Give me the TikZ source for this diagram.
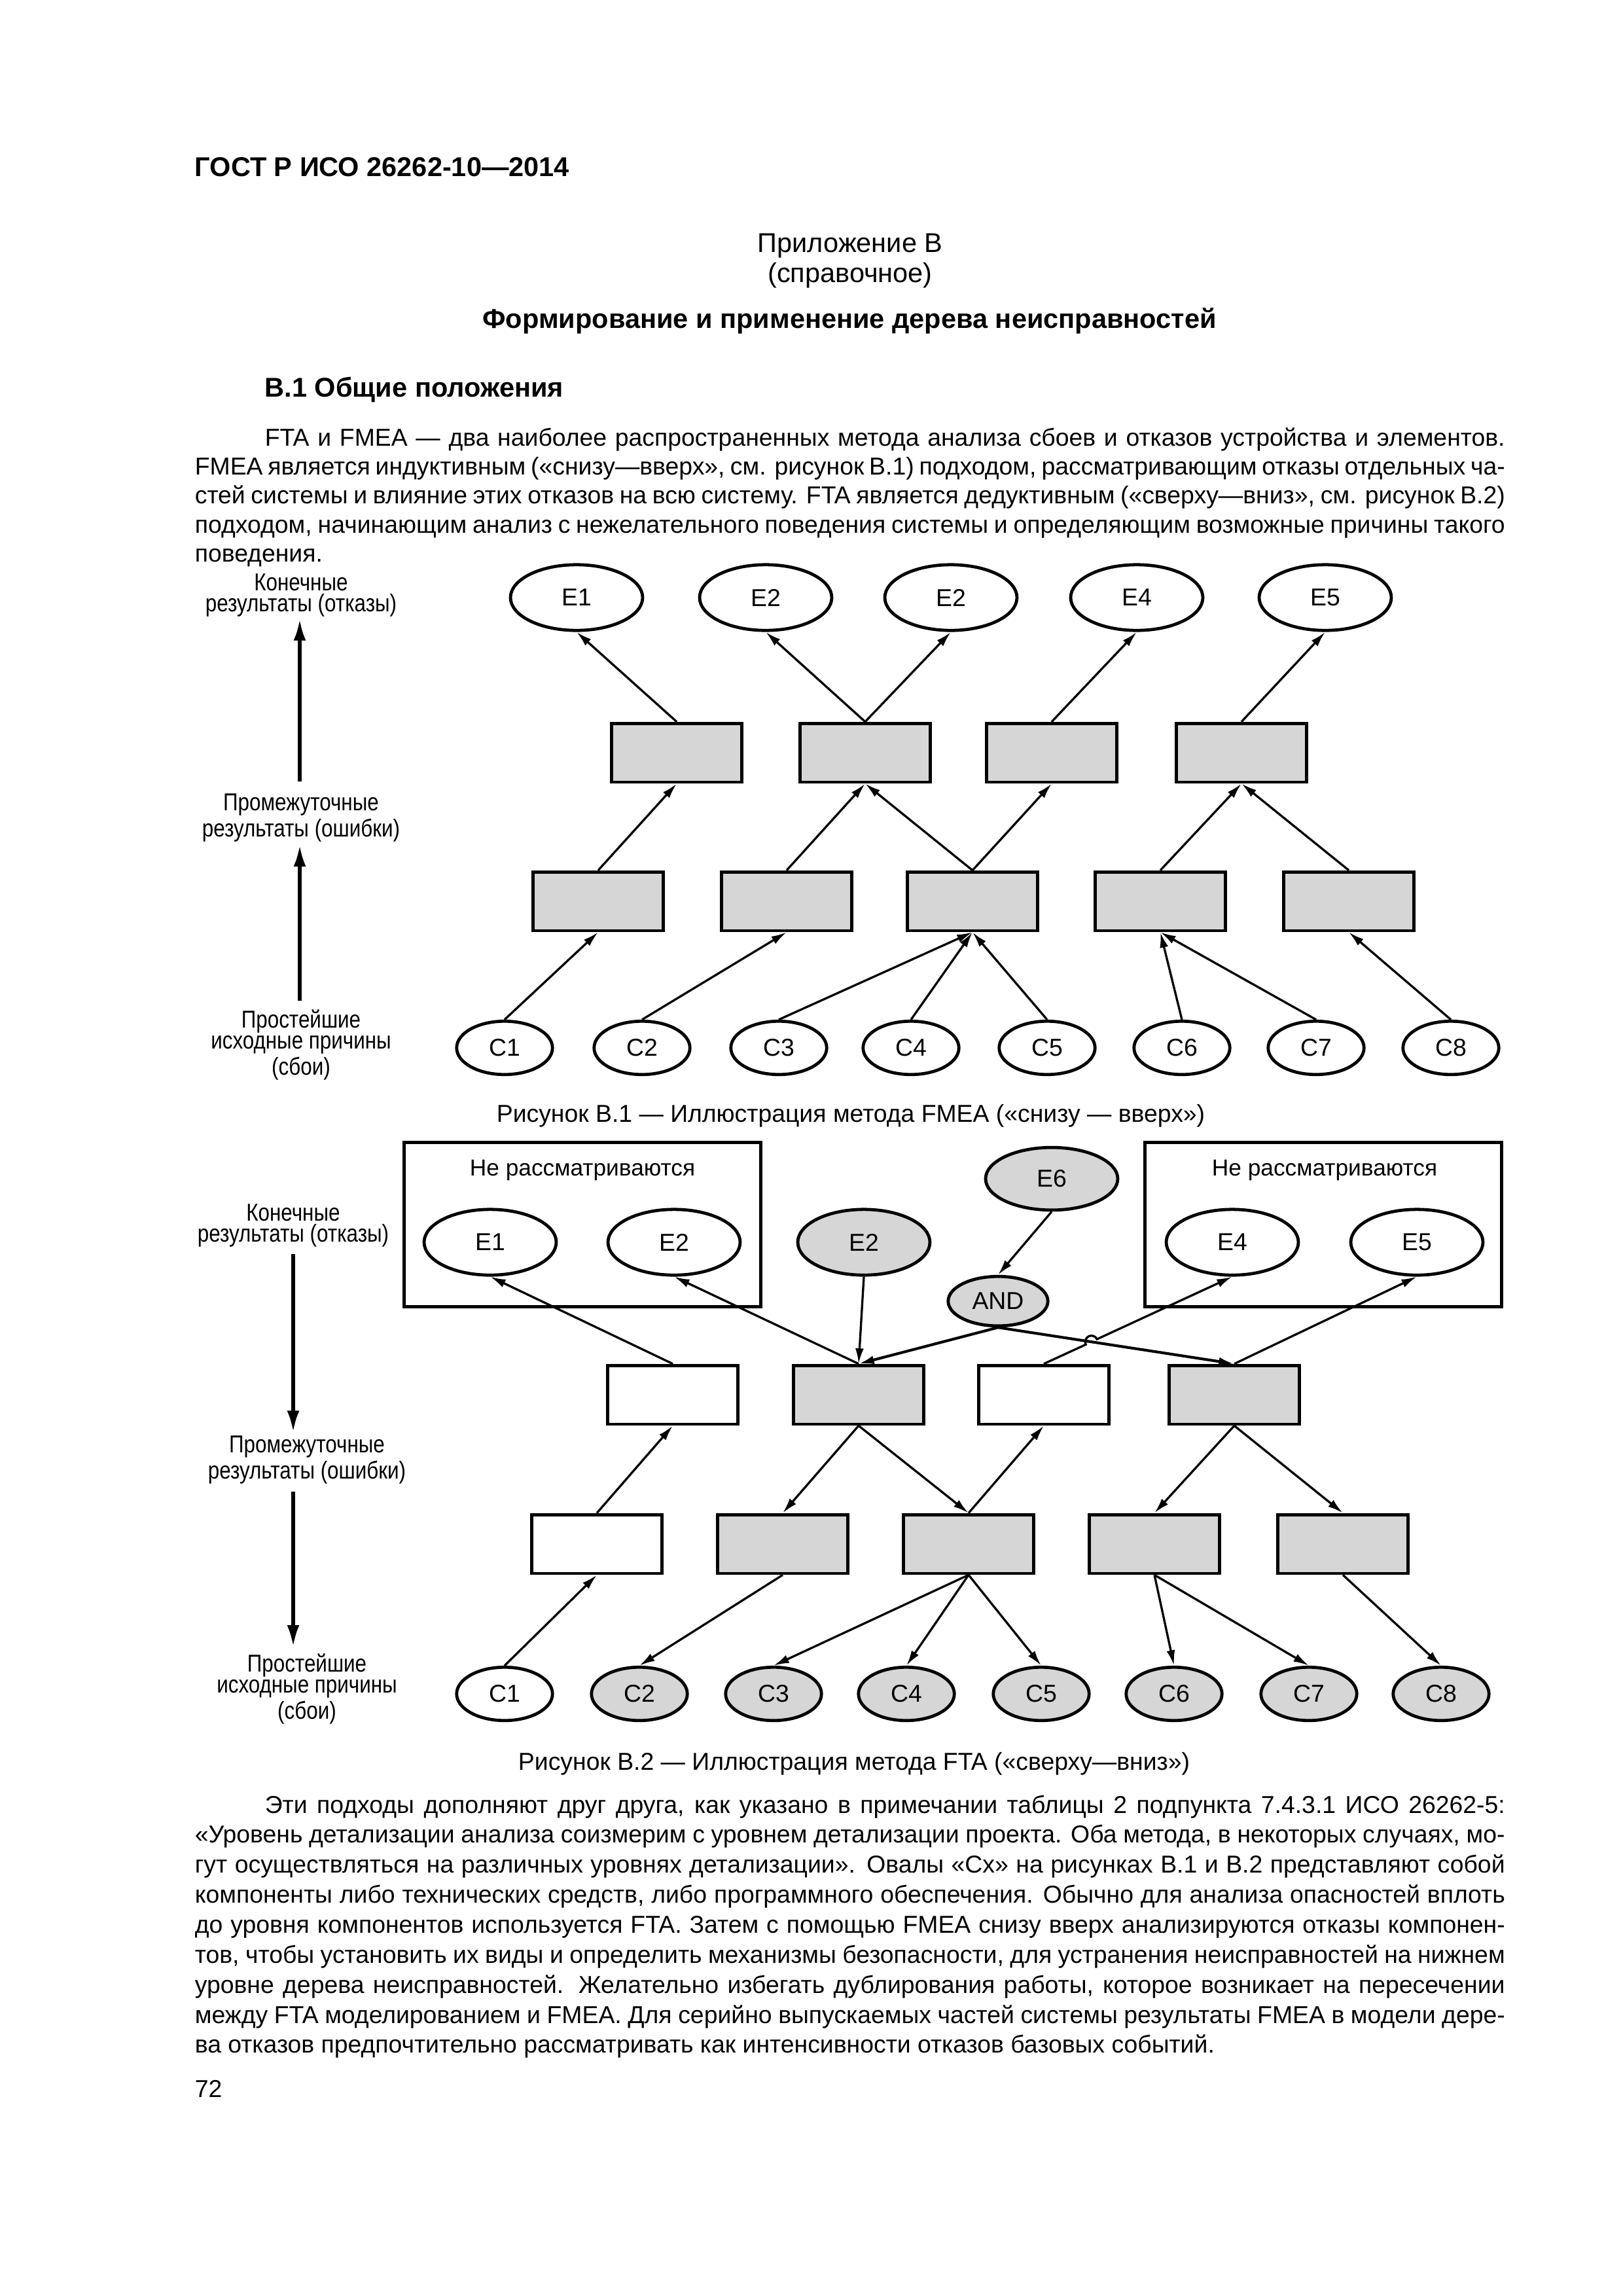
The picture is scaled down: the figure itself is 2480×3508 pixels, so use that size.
\documentclass[tikz,border=0pt]{standalone}
\usepackage{fontspec}
\setmainfont{Liberation Sans}
\newfontfamily\lvlfont[FakeStretch=0.84]{Liberation Sans}
\usepackage{tikz}
\usetikzlibrary{shapes.geometric, arrows.meta, positioning, calc}
\usepackage{xcolor}
\definecolor{GostGray}{HTML}{D6D6D6}
\definecolor{GostBlack}{HTML}{000000}
\tikzset{
    evt/.style={
        ellipse,
        draw=GostBlack,
        line width=1.15pt,
        fill=#1,
        minimum width=17.1mm,
        minimum height=8.5mm,
        inner sep=0pt,
        font=\fontsize{9}{10}\selectfont
    },
    evt/.default=white,
    cause/.style={
        evt=#1,
        minimum width=12.4mm,
        minimum height=6.9mm
    },
    cause/.default=white,
    errbox/.style={
        draw=GostBlack,
        line width=1.15pt,
        fill=#1,
        minimum width=16.9mm,
        minimum height=7.6mm,
        inner sep=0pt
    },
    errbox/.default=GostGray,
    skipbox/.style={
        draw=GostBlack,
        line width=1.15pt,
        minimum width=46.1mm,
        minimum height=21.3mm,
        inner sep=0pt
    },
    link/.style={
        -{Latex[length=2mm, width=1.1mm]},
        line width=0.8pt,
        GostBlack
    },
    andlink/.style={
        link,
        line width=1pt
    },
    axisarrow/.style={
        -{Latex[length=2.8mm, width=1.6mm]},
        line width=1.3pt,
        GostBlack
    },
    lvl/.style={
        align=center,
        inner sep=0pt,
        font=\lvlfont\fontsize{9}{7.7}\selectfont
    },
    para/.style={
        text width=169.5mm,
        align=justify,
        inner sep=0pt,
        font={\fontsize{9}{#1}\selectfont\tolerance=9999\hyphenpenalty=10000}
    },
    plain/.style={
        inner sep=0pt,
        font=\fontsize{9}{11}\selectfont
    },
    heading/.style={
        inner sep=0pt,
        font=\fontsize{10}{12}\selectfont\bfseries
    }
}

\begin{document}
\begin{tikzpicture}[x=0.0846774mm, y=-0.0846774mm]
        \useasboundingbox (0,0) rectangle (2480,3508);

        % Page header and annex title
        \node[heading, anchor=base west] (gost) at (297,269) {ГОСТ Р ИСО 26262-10—2014};
        \node[plain, anchor=base, font=\fontsize{10}{12}\selectfont] (annex) at (1299,385) {Приложение В};
        \node[plain, anchor=base, font=\fontsize{10}{12}\selectfont] (annextype) at (1299,431) {(справочное)};
        \node[heading, anchor=base] (annextitle) at (1298,501) {Формирование и применение дерева неисправностей};
        \node[heading, anchor=base west] (sec) at (404,606) {В.1 Общие положения};

        % Introduction
        \node[para=10.7, anchor=base west] (intro) at (297,681) {\hspace*{9.06mm}FTA и FMEA — два наиболее распространенных метода анализа сбоев и отказов устройства и элементов.\linebreak
            FMEA является индуктивным («снизу—вверх», см. рисунок В.1) подходом, рассматривающим отказы отдельных ча-\linebreak
            стей системы и влияние этих отказов на всю систему. FTA является дедуктивным («сверху—вниз», см. рисунок В.2)\linebreak
            подходом, начинающим анализ с нежелательного поведения системы и определяющим возможные причины такого\linebreak
            поведения.};

        % Figure B.1: levels
        \node[lvl, anchor=base] (flvl1) at (460,934) {Конечные\\результаты (отказы)};
        \node[lvl, anchor=base] (flvl2) at (460,1278) {Промежуточные\\результаты (ошибки)};
        \node[lvl, anchor=base] (flvl3) at (460,1642) {Простейшие\\исходные причины\\(сбои)};
        \coordinate (fax) at (458,0);
        \draw[axisarrow, shorten <=1.5mm, shorten >=0.25mm] (fax |- flvl2.north) -- (fax |- flvl1.south);
        \draw[axisarrow, shorten <=1.1mm, shorten >=0.35mm] (fax |- flvl3.north) -- (fax |- flvl2.south);

        % Figure B.1: end results
        \node[evt] (fe1) at (881,913) {E1};
        \node[evt] (fe2) at (1170,913) {E2};
        \node[evt] (fe3) at (1453,913) {E2};
        \node[evt] (fe4) at (1737,913) {E4};
        \node[evt] (fe5) at (2025,913) {E5};

        % Figure B.1: intermediate results
        \node[errbox] (ft1) at (1034,1150) {};
        \node[errbox] (ft2) at (1322,1150) {};
        \node[errbox] (ft3) at (1607,1150) {};
        \node[errbox] (ft4) at (1897,1150) {};
        \node[errbox] (fm1) at (914,1377) {};
        \node[errbox] (fm2) at (1202,1377) {};
        \node[errbox] (fm3) at (1486,1377) {};
        \node[errbox] (fm4) at (1773,1377) {};
        \node[errbox] (fm5) at (2061,1377) {};

        % Figure B.1: basic causes
        \node[cause] (fc1) at (771,1601) {C1};
        \node[cause] (fc2) at (981,1601) {C2};
        \node[cause] (fc3) at (1190,1601) {C3};
        \node[cause] (fc4) at (1392,1601) {C4};
        \node[cause] (fc5) at (1600,1601) {C5};
        \node[cause] (fc6) at (1806,1601) {C6};
        \node[cause] (fc7) at (2011,1601) {C7};
        \node[cause] (fc8) at (2217,1601) {C8};

        % Figure B.1: bottom-up links
        \draw[link] (fc1.north) -- (fm1.south);
        \draw[link] (fc2.north) -- (fm2.south);
        \draw[link] (fc3.north) -- (fm3.south);
        \draw[link] (fc4.north) -- (fm3.south);
        \draw[link] (fc5.north) -- (fm3.south);
        \draw[link] (fc6.north) -- (fm4.south);
        \draw[link] (fc7.north) -- (fm4.south);
        \draw[link] (fc8.north) -- (fm5.south);
        \draw[link] (fm1.north) -- (ft1.south);
        \draw[link] (fm2.north) -- (ft2.south);
        \draw[link] (fm3.north) -- (ft2.south);
        \draw[link] (fm3.north) -- (ft3.south);
        \draw[link] (fm4.north) -- (ft4.south);
        \draw[link] (fm5.north) -- (ft4.south);
        \draw[link] (ft1.north) -- (fe1.south);
        \draw[link] (ft2.north) -- (fe2.south);
        \draw[link] (ft2.north) -- (fe3.south);
        \draw[link] (ft3.north) -- (fe4.south);
        \draw[link] (ft4.north) -- (fe5.south);

        \node[plain, anchor=base] (fcap) at (1300,1714) {Рисунок В.1 — Иллюстрация метода FMEA («снизу — вверх»)};

        % Figure B.2: levels
        \node[lvl, anchor=base] (tlvl1) at (448,1897) {Конечные\\результаты (отказы)};
        \node[lvl, anchor=base] (tlvl2) at (469,2259) {Промежуточные\\результаты (ошибки)};
        \node[lvl, anchor=base] (tlvl3) at (469,2626) {Простейшие\\исходные причины\\(сбои)};
        \coordinate (tax) at (448,0);
        \draw[axisarrow, shorten <=0.9mm, shorten >=0.4mm] (tax |- tlvl1.south) -- (tax |- tlvl2.north);
        \draw[axisarrow, shorten <=1mm, shorten >=0.85mm] (tax |- tlvl2.south) -- (tax |- tlvl3.north);

        % Figure B.2: not considered
        \node[skipbox] (skipl) at (890,1871) {};
        \node[skipbox] (skipr) at (2022,1871) {};
        \node[plain, anchor=base, font=\fontsize{8.5}{10}\selectfont] (skipltext) at (890,1796) {Не рассматриваются};
        \node[plain, anchor=base, font=\fontsize{8.5}{10}\selectfont] (skiprtext) at (2024,1796) {Не рассматриваются};

        % Figure B.2: end results
        \node[evt] (te1) at (749,1898) {E1};
        \node[evt] (te2) at (1030,1898) {E2};
        \node[evt=GostGray] (te3) at (1320,1898) {E2};
        \node[evt] (te4) at (1883,1898) {E4};
        \node[evt] (te5) at (2165,1898) {E5};
        \node[evt=GostGray, minimum height=8.1mm] (te6) at (1607,1801) {E6};
        \node[evt=GostGray, minimum width=12.9mm, minimum height=6.4mm] (andgate) at (1525,1988) {AND};

        % Figure B.2: intermediate results
        \node[errbox=white] (tt1) at (1028,2131) {};
        \node[errbox] (tt2) at (1312,2131) {};
        \node[errbox=white] (tt3) at (1595,2131) {};
        \node[errbox] (tt4) at (1886,2131) {};
        \node[errbox=white] (tm1) at (912,2359) {};
        \node[errbox] (tm2) at (1196,2359) {};
        \node[errbox] (tm3) at (1480,2359) {};
        \node[errbox] (tm4) at (1764,2359) {};
        \node[errbox] (tm5) at (2052,2359) {};

        % Figure B.2: basic causes
        \node[cause] (tc1) at (771,2588) {C1};
        \node[cause=GostGray] (tc2) at (977,2588) {C2};
        \node[cause=GostGray] (tc3) at (1182,2588) {C3};
        \node[cause=GostGray] (tc4) at (1385,2588) {C4};
        \node[cause=GostGray] (tc5) at (1591,2588) {C5};
        \node[cause=GostGray] (tc6) at (1794,2588) {C6};
        \node[cause=GostGray] (tc7) at (2000,2588) {C7};
        \node[cause=GostGray] (tc8) at (2202,2588) {C8};

        % Figure B.2: links
        \draw[link] (te6.south) -- (andgate.north);
        \draw[link] (te3.south) -- (tt2.north);
        \draw[andlink] (andgate.south) -- (tt2.north);
        \draw[andlink] (andgate.south) -- (tt4.north);
        \draw[link] (tt1.north) -- (te1.south);
        \draw[link] (tt2.north) -- (te2.south);
        \coordinate (hop) at (intersection of tt3.north--te4.south and andgate.south--tt4.north);
        \draw[link] (tt3.north) -- ($(hop)!0.8mm!(tt3.north)$) arc[start angle=205.6, end angle=25.6, radius=0.8mm] -- (te4.south);
        \draw[link] (tt4.north) -- (te5.south);
        \draw[link] (tm1.north) -- (tt1.south);
        \draw[link] (tt2.south) -- (tm2.north);
        \draw[link] (tt2.south) -- (tm3.north);
        \draw[link] (tm3.north) -- (tt3.south);
        \draw[link] (tt4.south) -- (tm4.north);
        \draw[link] (tt4.south) -- (tm5.north);
        \draw[link] (tc1.north) -- (tm1.south);
        \draw[link] (tm2.south) -- (tc2.north);
        \draw[link] (tm3.south) -- (tc3.north);
        \draw[link] (tm3.south) -- (tc4.north);
        \draw[link] (tm3.south) -- (tc5.north);
        \draw[link] (tm4.south) -- (tc6.north);
        \draw[link] (tm4.south) -- (tc7.north);
        \draw[link] (tm5.south) -- (tc8.north);

        \node[plain, anchor=base] (tcap) at (1305,2704) {Рисунок В.2 — Иллюстрация метода FTA («сверху—вниз»)};

        % Closing text
        \node[para=11.05, anchor=base west] (closing) at (297,2770) {\hspace*{9.06mm}Эти подходы дополняют друг друга, как указано в примечании таблицы 2 подпункта 7.4.3.1 ИСО 26262-5:\linebreak
            «Уровень детализации анализа соизмерим с уровнем детализации проекта. Оба метода, в некоторых случаях, мо-\linebreak
            гут осуществляться на различных уровнях детализации». Овалы «Сх» на рисунках В.1 и В.2 представляют собой\linebreak
            компоненты либо технических средств, либо программного обеспечения. Обычно для анализа опасностей вплоть\linebreak
            до уровня компонентов используется FTA. Затем с помощью FMEA снизу вверх анализируются отказы компонен-\linebreak
            тов, чтобы установить их виды и определить механизмы безопасности, для устранения неисправностей на нижнем\linebreak
            уровне дерева неисправностей. Желательно избегать дублирования работы, которое возникает на пересечении\linebreak
            между FTA моделированием и FMEA. Для серийно выпускаемых частей системы результаты FMEA в модели дере-\linebreak
            ва отказов предпочтительно рассматривать как интенсивности отказов базовых событий.};

        \node[plain, anchor=base west] (pageno) at (297,3204) {72};
    \end{tikzpicture}
\end{document}
